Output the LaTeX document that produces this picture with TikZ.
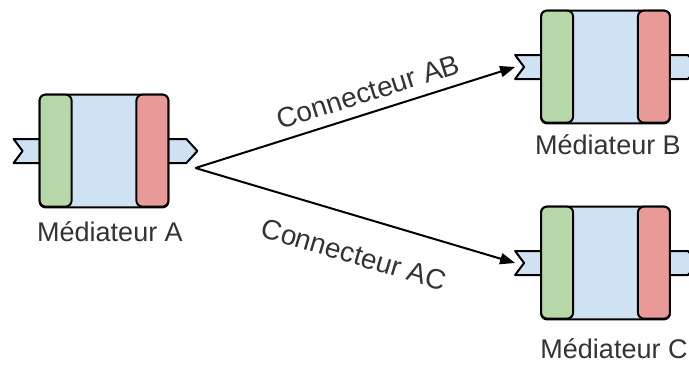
\documentclass[tikz,border=0pt]{standalone}
\usepackage{fontspec}
\setmainfont{Liberation Sans}
\usetikzlibrary{arrows.meta}

\definecolor{bandgreen}{HTML}{B6D7A8}
\definecolor{bandred}{HTML}{EA9999}
\definecolor{midblue}{HTML}{CFE2F3}
\definecolor{textgray}{HTML}{333333}

% one mediator: #1 = node name, #2 = centre
\newcommand{\mediateur}[2]{%
  \node[mframe] (#1) at #2 {};
  % input port (notched)
  \draw[port] (#1.west) ++(0,-12) -- ++(-26,0) -- ++(9,12) -- ++(-9,12) -- ++(26,0);
  % output port (pointed)
  \draw[port] (#1.east) ++(0,-12) -- ++(18,0) -- ++(11,12) -- ++(-11,12) -- ++(-18,0);
  % body and side bands
  \draw[band, fill=midblue] (#1.north west) rectangle (#1.south east);
  \draw[band, fill=bandgreen] (#1.north west) rectangle ++(32,112);
  \draw[band, fill=bandred] (#1.north east) rectangle ++(-32,112);
  % connector ends
  \path (#1.west) ++(-26,0) coordinate (#1-in);
  \path (#1.east) ++(27,17) coordinate (#1-out);
}

\begin{document}
\begin{tikzpicture}[x=0.5pt, y=-0.5pt,
    mframe/.style={rectangle, minimum width=64pt, minimum height=56pt, inner sep=0pt},
    port/.style={draw=black, fill=midblue, line width=1pt, line join=round},
    band/.style={draw=black, line width=1pt, rounded corners=3pt},
    mlabel/.style={font=\fontsize{13.5}{16}\selectfont, text=textgray},
    clabel/.style={font=\fontsize{14}{16}\selectfont, text=textgray, sloped},
    conn/.style={line width=1pt, -{Triangle[length=7.5pt, width=5.5pt]}}]
  \useasboundingbox (0,0) rectangle (689,365);

  % Mediators
  \mediateur{medA}{(104,151)}
  \mediateur{medB}{(605.5,67)}
  \mediateur{medC}{(605.5,263)}

  % Mediator names
  \node[mlabel] (lblA) at (110,232) {Médiateur A};
  \node[mlabel] (lblB) at (608,145) {Médiateur B};
  \node[mlabel] (lblC) at (614,349) {Médiateur C};

  % Connectors
  \draw[conn] (medA-out) -- node[clabel, above=1.5pt, pos=0.56] (lblAB) {Connecteur AB} (medB-in);
  \draw[conn] (medA-out) -- node[clabel, below=10pt, pos=0.53] (lblAC) {Connecteur AC} (medC-in);
\end{tikzpicture}
\end{document}
